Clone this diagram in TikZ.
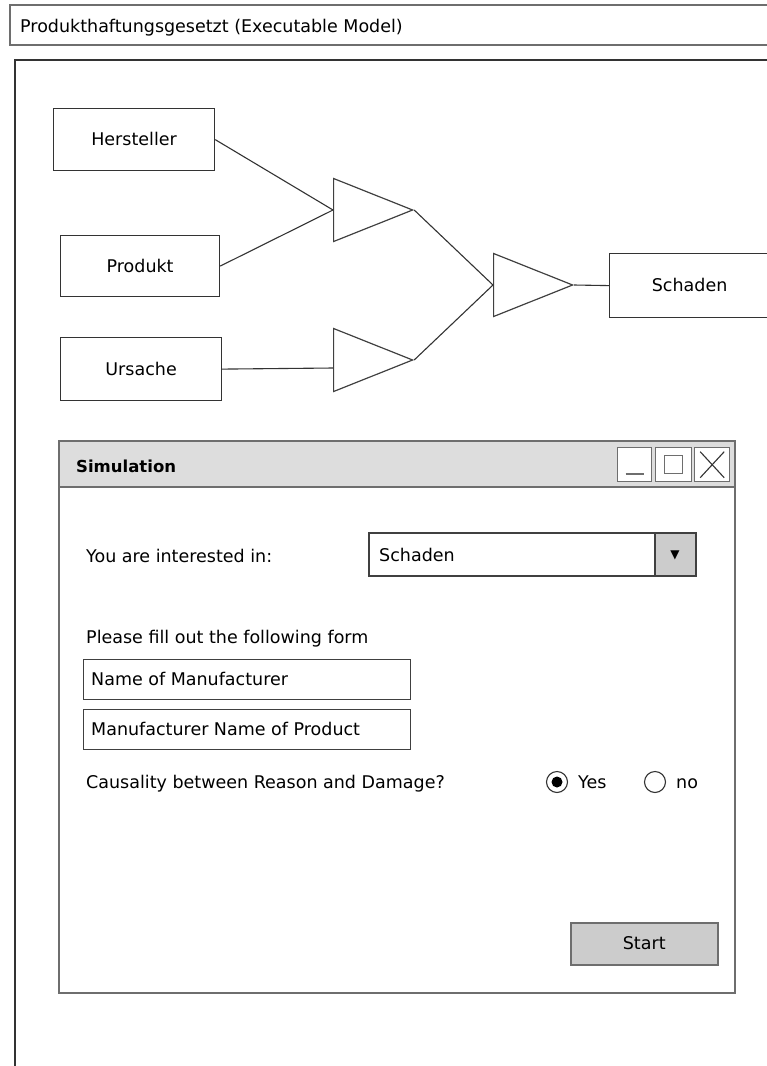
\documentclass[tikz,border=0pt]{standalone}
\usepackage{fontspec}
\setmainfont{DejaVu Sans}
\usetikzlibrary{shapes.geometric,positioning}

\definecolor{framegray}{HTML}{6E6E6E}
\definecolor{barfill}{HTML}{DDDDDD}
\definecolor{btnfill}{HTML}{CCCCCC}

\tikzset{
	txt/.style={font=\fontsize{17.5}{20}\selectfont, inner sep=0pt, text height=15pt, text depth=3pt},
	ent/.style={draw=black!80, line width=1.2pt, inner sep=0pt, minimum width=161, minimum height=62, anchor=north west, txt},
	gate/.style={draw=black!75, line width=1.2pt, isosceles triangle, isosceles triangle stretches, shape border rotate=0, inner sep=0pt, minimum width=63, minimum height=79, anchor=west},
	wire/.style={draw=black!80, line width=1.1pt},
	field/.style={draw=black!75, line width=1.3pt, inner sep=0pt, anchor=north west, minimum width=327, minimum height=40, txt},
	winbtn/.style={draw=framegray, line width=1.4pt, inner sep=0pt, minimum width=34, minimum height=34, anchor=north west},
	radio/.style={circle, draw=black!80, line width=1.1pt, inner sep=0pt, minimum size=21},
}

\begin{document}
\begin{tikzpicture}[x=1pt,y=-1pt]
	\useasboundingbox (0,0) rectangle (767,1066);
	\clip (0,0) rectangle (767,1066);

	% title bar and frame
	\draw[framegray, line width=1.6pt] (10,5) rectangle (780,45);
	\node[txt, anchor=west] (title) at (20,26) {Produkthaftungsgesetzt (Executable Model)};
	\draw[black!80, line width=1.6pt] (15,60) rectangle (780,1080);

	% model
	\node[ent] (herst) at (53,108) {Hersteller};
	\node[ent, minimum width=159, minimum height=61] (prod) at (60,235) {Produkt};
	\node[ent, minimum height=63] (urs) at (60,337) {Ursache};
	\node[ent, minimum width=170, minimum height=64] (schad) at (609,253) {\hspace*{-10pt}Schaden};

	\node[gate] (g1) at (333,210) {};
	\node[gate] (g2) at (333,360) {};
	\node[gate] (g3) at (493,285) {};

	\draw[wire] (herst.east) -- (g1.west);
	\draw[wire] (prod.east) -- (g1.west);
	\draw[wire] (urs.east) -- ([yshift=-8]g2.west);
	\draw[wire] (g1.apex) -- (g3.west);
	\draw[wire] (g2.apex) -- (g3.west);
	\draw[wire] (g3.apex) -- (schad.west);

	% simulation window
	\fill[barfill] (59,441) rectangle (735,487);
	\draw[framegray, line width=1.6pt] (59,487) -- (735,487);
	\draw[framegray, line width=1.6pt] (59,441) rectangle (735,993);
	\node[txt, anchor=west, font=\fontsize{16.5}{20}\selectfont\bfseries] (simtitle) at (76,466) {Simulation};
	\node[winbtn, fill=white] (bmin) at (617,447) {};
	\node[winbtn, fill=white, minimum width=36] (bmax) at (655,447) {};
	\node[winbtn, fill=white, minimum width=35] (bclose) at (694,447) {};
	\draw[framegray, line width=1.6pt] ([xshift=-9,yshift=-9]bmin.center) -- ([xshift=9,yshift=-9]bmin.center);
	\draw[framegray, line width=1.4pt] ([xshift=-9,yshift=-9]bmax.center) rectangle ([xshift=9,yshift=9]bmax.center);
	\draw[black!80, line width=1.1pt] ([xshift=-12,yshift=-13]bclose.center) -- ([xshift=12,yshift=13]bclose.center);
	\draw[black!80, line width=1.1pt] ([xshift=-12,yshift=13]bclose.center) -- ([xshift=12,yshift=-13]bclose.center);

	\node[txt, anchor=west] (ask) at (86,556) {You are interested in:};
	\node[field, minimum width=326, minimum height=42] (choice) at (369,533) {};
	\fill[btnfill] (655,533) rectangle (695,575);
	\draw[black!75, line width=1.3pt] (choice.north west) rectangle (choice.south east);
	\draw[black!75, line width=1.2pt] (655,533) -- (655,575);
	\node[txt, anchor=west] (choicetxt) at (379,555) {Schaden};
	\node[font=\fontsize{12}{12}\selectfont, inner sep=0pt] (arrow) at (675,555) {▼};

	\node[txt, anchor=west] (form) at (86,637) {Please fill out the following form};
	\node[field] (fman) at (83,659) {};
	\node[txt, anchor=west] at ([xshift=8]fman.west) {Name of Manufacturer};
	\node[field] (fprod) at (83,709) {};
	\node[txt, anchor=west] at ([xshift=8]fprod.west) {Manufacturer Name of Product};

	\node[txt, anchor=west] (causal) at (86,782) {Causality between Reason and Damage?};
	\node[radio] (ryes) at (557,782) {};
	\fill[black] (ryes.center) circle (5.5);
	\node[txt, anchor=west] (lyes) at (578,782) {Yes};
	\node[radio] (rno) at (655,782) {};
	\node[txt, anchor=west] (lno) at (676,782) {no};

	\node[draw=framegray, fill=btnfill, line width=1.5pt, inner sep=0pt, minimum width=147, minimum height=42, anchor=north west, txt] (start) at (570,922) {Start};
\end{tikzpicture}
\end{document}
